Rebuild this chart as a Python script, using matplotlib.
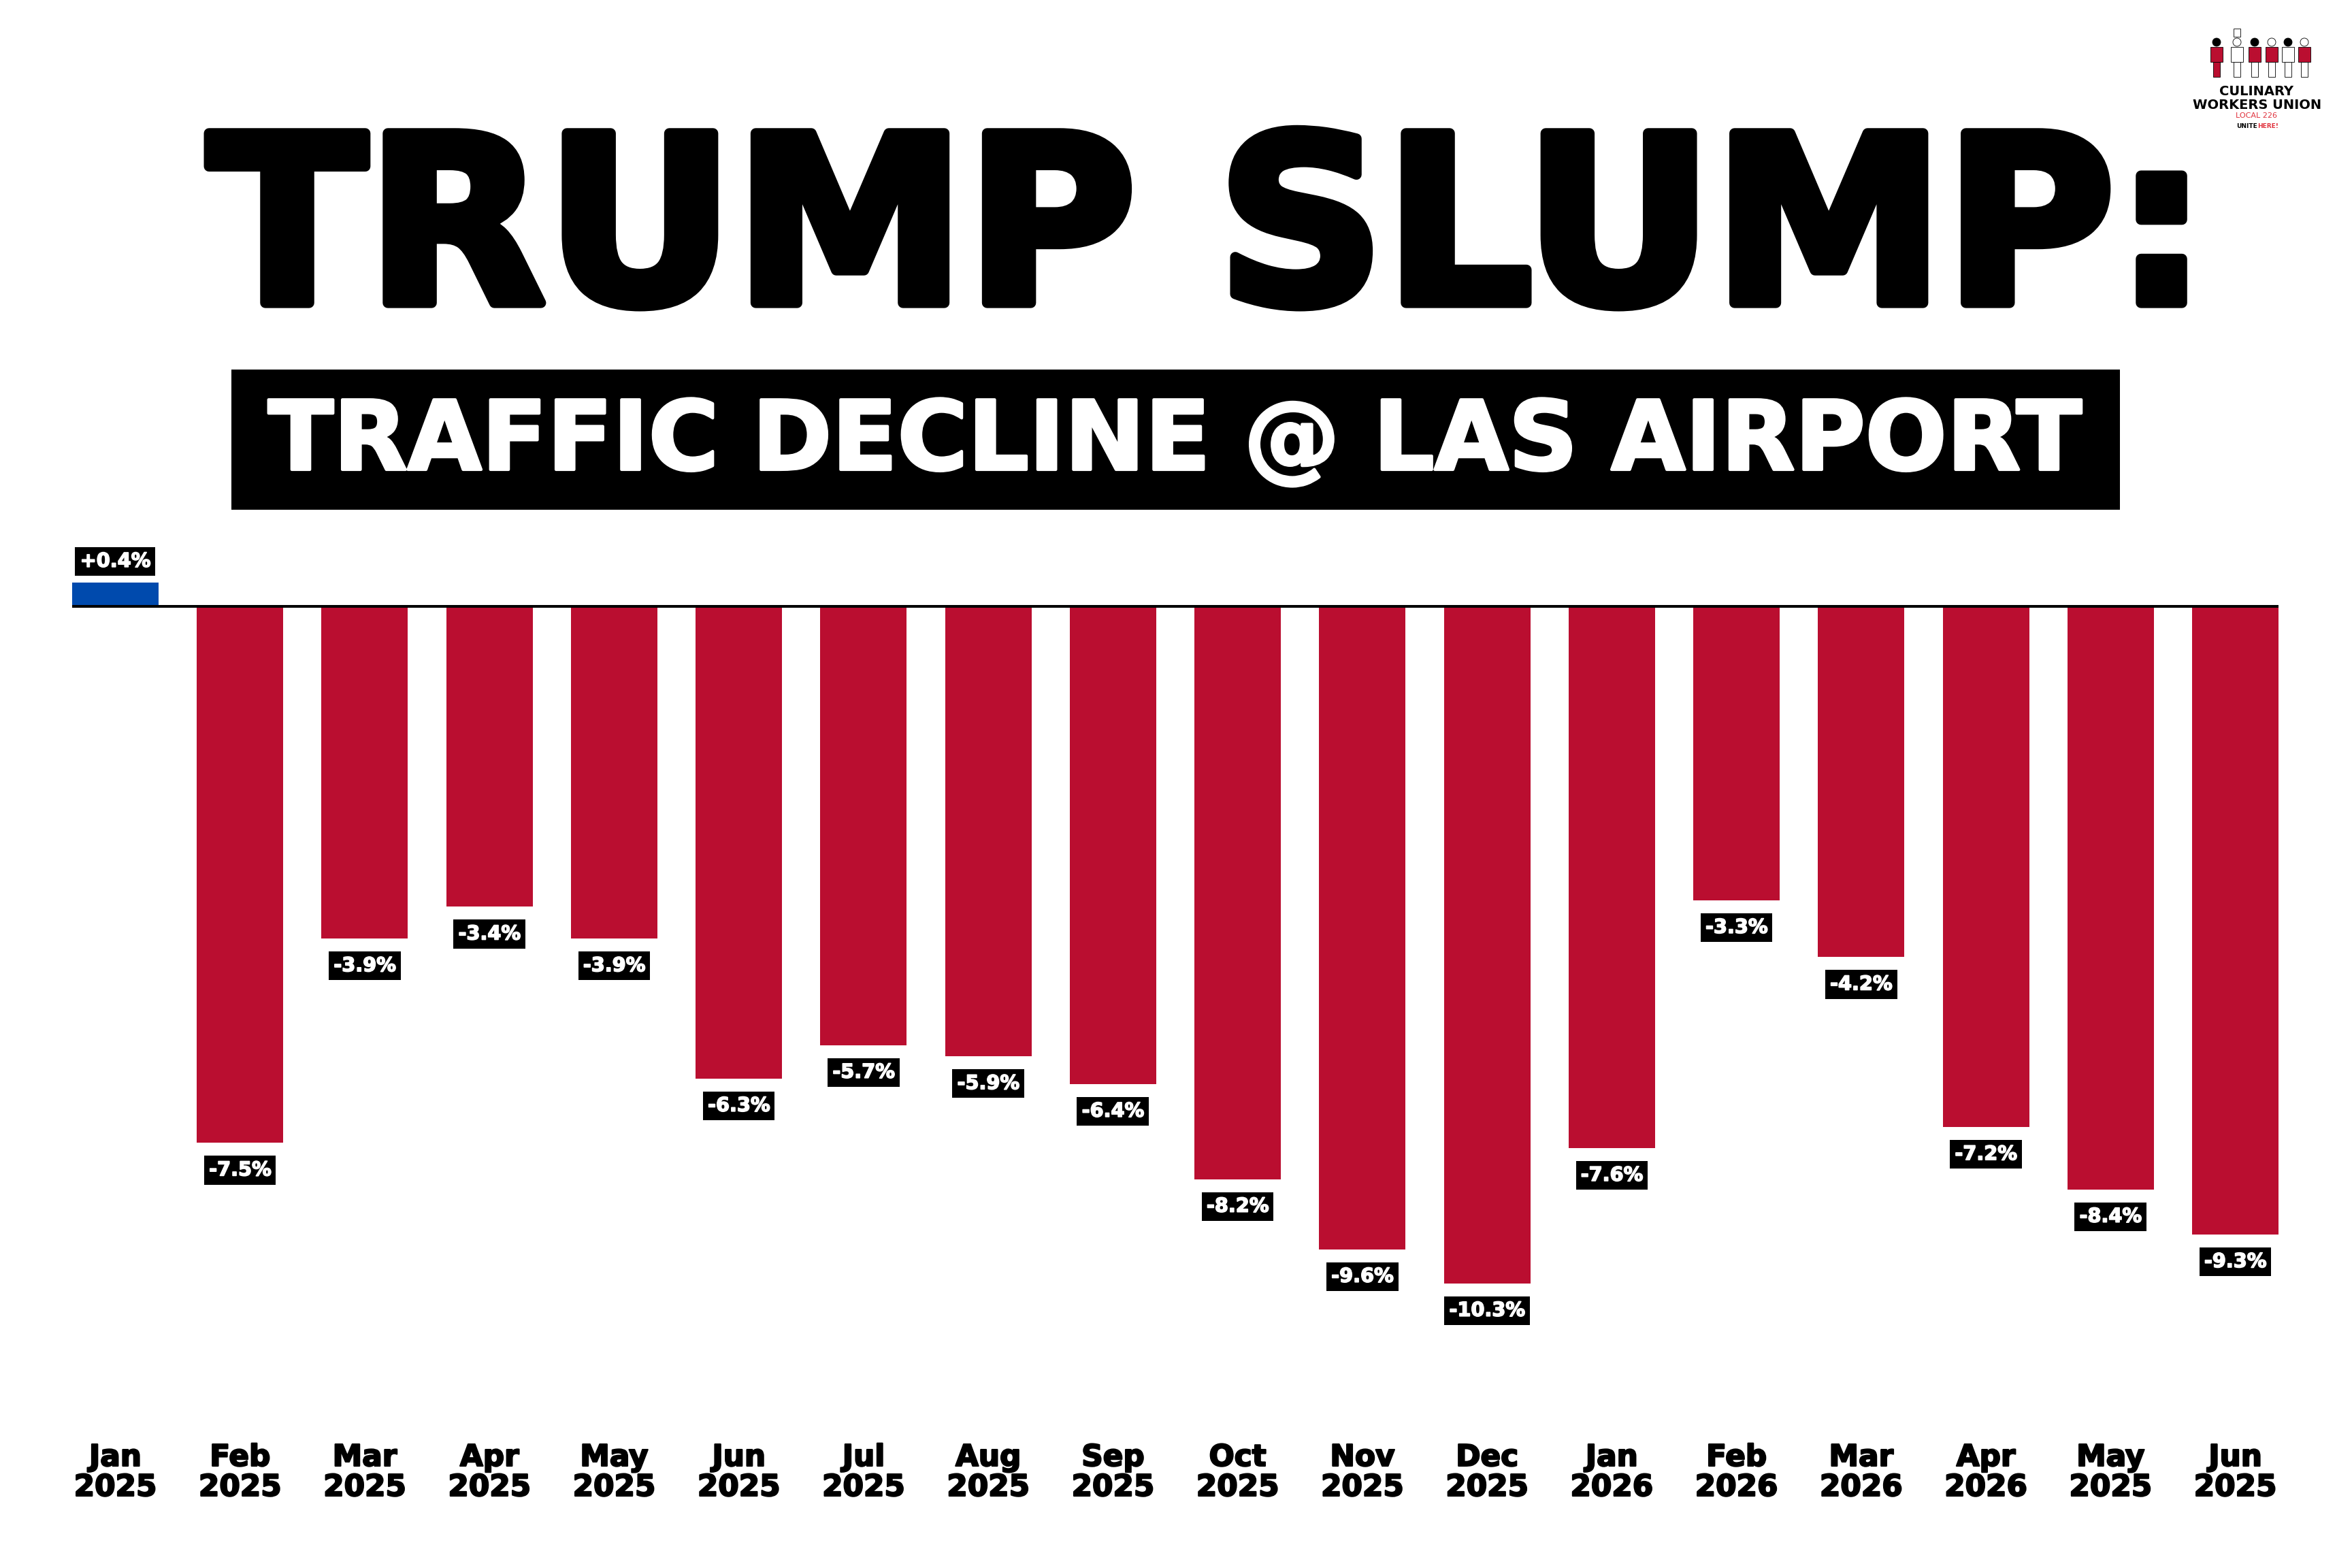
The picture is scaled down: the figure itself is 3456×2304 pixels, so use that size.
import numpy as np
import matplotlib
matplotlib.use("Agg")
import matplotlib.pyplot as plt
from matplotlib import patheffects
from matplotlib.patches import Rectangle, Circle

title = "TRUMP SLUMP:"
subtitle = "TRAFFIC DECLINE @ LAS AIRPORT"

months = ["Jan", "Feb", "Mar", "Apr", "May", "Jun", "Jul", "Aug", "Sep",
          "Oct", "Nov", "Dec", "Jan", "Feb", "Mar", "Apr", "May", "Jun"]
years = ["2025", "2025", "2025", "2025", "2025", "2025", "2025", "2025", "2025",
         "2025", "2025", "2025", "2026", "2026", "2026", "2026", "2025", "2025"]
change = [0.4, -7.5, -3.9, -3.4, -3.9, -6.3, -5.7, -5.9, -6.4,
          -8.2, -9.6, -10.3, -7.6, -3.3, -4.2, -7.2, -8.4, -9.3]

RED = "#BA0E30"
BLUE = "#004AAD"
W, H = 3456, 2304

# the original bars are not drawn to a linear scale:
# declines follow a power curve, the one gain is linear
P = 0.733
POS_GAIN = 0.486


def fwd(y):
    y = np.asarray(y, dtype=float)
    return np.where(y >= 0, POS_GAIN * y, -np.abs(y) ** P)


def inv(u):
    u = np.asarray(u, dtype=float)
    return np.where(u >= 0, u / POS_GAIN, -np.abs(u) ** (1 / P))


fig = plt.figure(figsize=(W / 100, H / 100), dpi=100)
fig.patch.set_facecolor("white")

# title
fig.text(0.5136, 1 - 445 / H, title, ha="center", va="baseline",
         fontsize=246, fontweight="bold", family="DejaVu Sans", color="black",
         path_effects=[patheffects.withStroke(linewidth=11, foreground="black")])

# subtitle in black box
fig.patches.append(Rectangle((340 / W, 1 - 749 / H), (3115 - 340) / W, (749 - 543) / H,
                             transform=fig.transFigure, facecolor="black",
                             edgecolor="none", zorder=0))
fig.text(0.4998, 1 - 690 / H, subtitle, ha="center", va="baseline",
         fontsize=101.5, fontweight="bold", family="DejaVu Sans", color="white",
         path_effects=[patheffects.withStroke(linewidth=3, foreground="white")])

# chart
base_px, top_px, bot_px, unit_px = 891, 760, 2100, 180
ax = fig.add_axes([106 / W, 1 - bot_px / H, (3348 - 106) / W, (bot_px - top_px) / H])
ax.set_facecolor("none")
ax.set_yscale("function", functions=(fwd, inv))
ax.set_ylim(float(inv(-(bot_px - base_px) / unit_px)), float(inv((base_px - top_px) / unit_px)))
ax.set_xlim(-0.3465, len(change) - 1 + 0.3465)

x = np.arange(len(change))
colors = [BLUE if v > 0 else RED for v in change]
ax.bar(x, change, width=0.693, color=colors, zorder=2)
ax.axhline(0, color="black", linewidth=2.9, zorder=3)

for i, v in enumerate(change):
    if v > 0:
        off, va = 12.3, "bottom"
    else:
        off, va = -18.8, "top"
    ax.annotate(f"{v:+.1f}%", xy=(i, v), xytext=(0, off), textcoords="offset points",
                ha="center", va=va, fontsize=20.7, fontweight="bold",
                family="DejaVu Sans", color="white", annotation_clip=False,
                path_effects=[patheffects.withStroke(linewidth=1.2, foreground="white")],
                bbox=dict(boxstyle="square,pad=0.25", facecolor="black",
                          edgecolor="none"), zorder=4)

ax.set_xticks(x, [f"{m}\n{y}" for m, y in zip(months, years)])
for lab in ax.get_xticklabels():
    lab.set_fontsize(31.5)
    lab.set_fontweight("bold")
    lab.set_family("DejaVu Sans")
    lab.set_linespacing(1.03)
    lab.set_path_effects([patheffects.withStroke(linewidth=1.6, foreground="black")])
ax.tick_params(axis="x", length=0, pad=14.4)
ax.tick_params(axis="y", which="both", left=False, labelleft=False)
ax.yaxis.set_minor_locator(matplotlib.ticker.NullLocator())
for s in ax.spines.values():
    s.set_visible(False)

# union logo, drawn in pixel units
lx0, lx1, ly0, ly1 = 3220, 3420, 20, 200
lg = fig.add_axes([lx0 / W, 1 - ly1 / H, (lx1 - lx0) / W, (ly1 - ly0) / H])
lg.set_xlim(lx0, lx1)
lg.set_ylim(ly1, ly0)
lg.axis("off")

fig_x = [3257, 3287, 3313, 3338, 3362, 3386]
head_fc = ["black", "white", "black", "white", "black", "white"]
body_fc = [RED, "white", RED, RED, "white", RED]
legs_fc = [RED, "white", "white", "white", "white", "white"]
for cx, hf, bf, lf in zip(fig_x, head_fc, body_fc, legs_fc):
    lg.add_patch(Circle((cx, 62), 6, facecolor=hf, edgecolor="black", lw=0.6))
    lg.add_patch(Rectangle((cx - 9, 69), 18, 22, facecolor=bf, edgecolor="black", lw=0.6))
    lg.add_patch(Rectangle((cx - 5, 91), 10, 22, facecolor=lf, edgecolor="black", lw=0.6))
lg.add_patch(Rectangle((3282, 42), 10, 12, facecolor="white", edgecolor="black", lw=0.6))

narrow = ["Liberation Sans Narrow", "DejaVu Sans"]
lg.text(3316, 140, "CULINARY", ha="center", va="baseline", fontsize=14,
        fontweight="bold", family=narrow, color="black")
lg.text(3317, 160, "WORKERS UNION", ha="center", va="baseline", fontsize=14,
        fontweight="bold", family=narrow, color="black")
lg.text(3316, 173, "LOCAL 226", ha="center", va="baseline", fontsize=8,
        family=narrow, color="#E0313C")
lg.text(3317, 188, "UNITE", ha="right", va="baseline", fontsize=6.5,
        fontweight="bold", family="DejaVu Sans", color="black")
lg.text(3317, 188, "HERE!", ha="left", va="baseline", fontsize=6.5,
        fontweight="bold", family="DejaVu Sans", color="#E0313C")

fig.savefig("out.png", dpi=100, facecolor="white")
